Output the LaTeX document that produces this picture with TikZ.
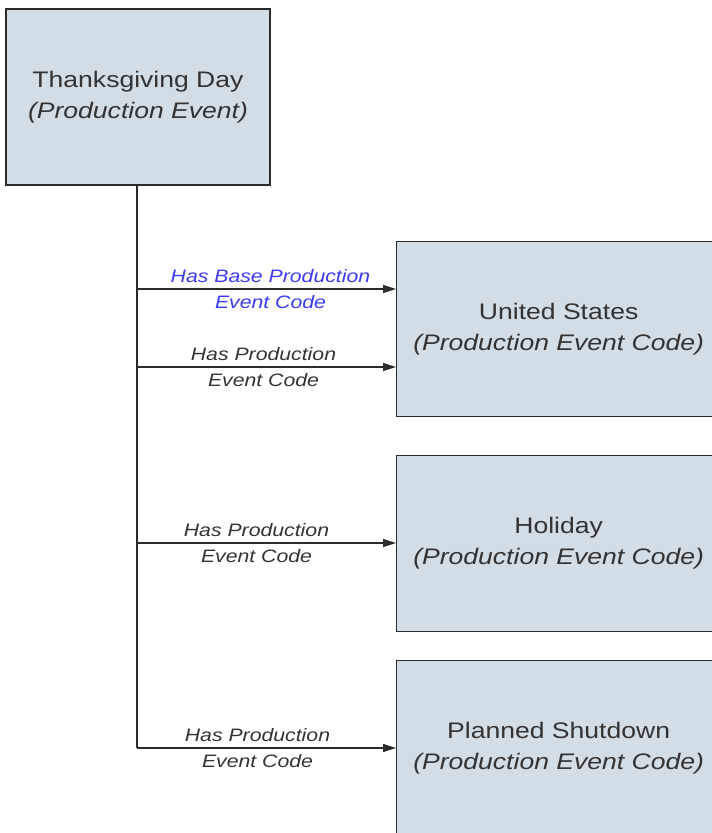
\documentclass[tikz,border=0pt]{standalone}
\usepackage{fontspec}
\setmainfont[FakeStretch=1.18]{Liberation Sans}
\usetikzlibrary{arrows.meta, positioning}
\definecolor{boxfill}{HTML}{D3DDE6}
\definecolor{lineclr}{HTML}{2B2B2B}
\definecolor{txtclr}{HTML}{333333}
\definecolor{baseblue}{HTML}{3B3BF5}
\tikzset{
	evbox/.style={draw=lineclr, fill=boxfill, line width=1.3pt, align=center,
		font=\fontsize{22.5}{31}\selectfont, text=txtclr, inner sep=0pt},
	relarr/.style={-{Triangle[length=13pt, width=8pt]}, line width=1.3pt, draw=lineclr},
	rellbl/.style={align=center, font=\fontsize{18}{26}\selectfont\itshape, text=txtclr}
}

\begin{document}
\begin{tikzpicture}[x=1pt, y=-1pt]
	\useasboundingbox (0,0) rectangle (712,833);
	\node[evbox, minimum width=264pt, minimum height=176pt] (tday) at (138,97)
		{Thanksgiving Day\\\textit{(Production Event)}};
	\node[evbox, anchor=north west, minimum width=324pt, minimum height=175pt] (us) at (396,241)
		{United States\\\textit{(Production Event Code)}};
	\node[evbox, anchor=north west, minimum width=324pt, minimum height=176pt] (hol) at (396,455)
		{Holiday\\\textit{(Production Event Code)}};
	\node[evbox, anchor=north west, minimum width=324pt, minimum height=176pt] (plan) at (396,660)
		{Planned Shutdown\\\textit{(Production Event Code)}};
	\coordinate (j1) at (137,289);
	\coordinate (j2) at (137,367);
	\coordinate (j3) at (137,543);
	\coordinate (j4) at (137,748);
	\draw[line width=1.3pt, draw=lineclr] (tday.south -| j1) -- (j4);
	\draw[relarr] (j1) -- node[rellbl, text=baseblue, xshift=4pt] {Has Base Production\\Event Code} (j1 -| us.west);
	\draw[relarr] (j2) -- node[rellbl, xshift=-3pt] {Has Production\\Event Code} (j2 -| us.west);
	\draw[relarr] (j3) -- node[rellbl, xshift=-10pt] {Has Production\\Event Code} (j3 -| hol.west);
	\draw[relarr] (j4) -- node[rellbl, xshift=-9pt] {Has Production\\Event Code} (j4 -| plan.west);
\end{tikzpicture}
\end{document}
